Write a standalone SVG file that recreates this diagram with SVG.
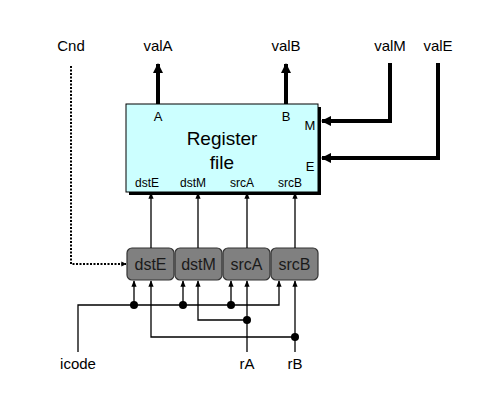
<svg xmlns="http://www.w3.org/2000/svg" width="501" height="404" viewBox="0 0 501 404">
<style>
text{font-family:"Liberation Sans",Arial,sans-serif;fill:#000}
.lbl{font-size:15px;text-anchor:middle}
.small{font-size:12px;text-anchor:middle}
.port{font-size:13px;text-anchor:middle}
.thick{stroke:#000;stroke-width:4;fill:none}
.thin{stroke:#000;stroke-width:1.3;fill:none}
.reg{fill:#808080;stroke:#333;stroke-width:1.2}
.regt{font-size:16px;text-anchor:middle;fill:#1a1a1a}
</style>
<defs>
<marker id="big" viewBox="0 0 10 10" refX="9" refY="5" markerWidth="2.6" markerHeight="2.6" orient="auto" markerUnits="strokeWidth"><path d="M0,0 L10,5 L0,10 z" fill="#000"/></marker>
<marker id="sm" viewBox="0 0 10 10" refX="9" refY="5" markerWidth="5" markerHeight="5" orient="auto" markerUnits="strokeWidth"><path d="M0,1 L10,5 L0,9 z" fill="#000"/></marker>
</defs>
<rect width="501" height="404" fill="#fff"/>
<g id="labels">
<text class="lbl" x="71" y="51">Cnd</text>
<text class="lbl" x="158" y="51">valA</text>
<text class="lbl" x="286" y="51">valB</text>
<text class="lbl" x="390" y="51">valM</text>
<text class="lbl" x="438" y="51">valE</text>
<text class="lbl" x="78" y="369">icode</text>
<text class="lbl" x="247" y="369">rA</text>
<text class="lbl" x="295" y="369">rB</text>
</g>
<g id="regfile">
<rect x="129" y="107" width="192" height="88" fill="#000"/>
<rect x="126" y="104" width="192" height="88" fill="#ccffff" stroke="#000" stroke-width="1"/>
<text x="222" y="145" font-size="19" text-anchor="middle">Register</text>
<text x="222" y="169" font-size="19" text-anchor="middle">file</text>
<text class="port" x="158" y="121">A</text>
<text class="port" x="286" y="121">B</text>
<text class="port" x="310" y="130">M</text>
<text class="port" x="310" y="171">E</text>
<text class="small" x="147" y="187">dstE</text>
<text class="small" x="193" y="187">dstM</text>
<text class="small" x="242" y="187">srcA</text>
<text class="small" x="290" y="187">srcB</text>
</g>
<g id="r_dstE"><rect class="reg" x="127" y="248" width="47" height="32" rx="5"/><text class="regt" x="150.5" y="270">dstE</text></g>
<g id="r_dstM"><rect class="reg" x="175" y="248" width="47" height="32" rx="5"/><text class="regt" x="198.5" y="270">dstM</text></g>
<g id="r_srcA"><rect class="reg" x="223" y="248" width="47" height="32" rx="5"/><text class="regt" x="246.5" y="270">srcA</text></g>
<g id="r_srcB"><rect class="reg" x="271" y="248" width="47" height="32" rx="5"/><text class="regt" x="294.5" y="270">srcB</text></g>
<g id="connectors">
<line class="thick" x1="158" y1="104" x2="158" y2="64" marker-end="url(#big)"/>
<line class="thick" x1="286" y1="104" x2="286" y2="64" marker-end="url(#big)"/>
<polyline class="thick" points="390,63 390,121 322,121" marker-end="url(#big)"/>
<polyline class="thick" points="438,63 438,158 322,158" marker-end="url(#big)"/>
<polyline points="71,66 71,264 126,264" fill="none" stroke="#000" stroke-width="2" stroke-dasharray="2,1.5" marker-end="url(#big)"/>
<line class="thin" x1="151" y1="248" x2="151" y2="193" marker-end="url(#sm)"/>
<line class="thin" x1="198" y1="248" x2="198" y2="193" marker-end="url(#sm)"/>
<line class="thin" x1="247" y1="248" x2="247" y2="193" marker-end="url(#sm)"/>
<line class="thin" x1="295" y1="248" x2="295" y2="193" marker-end="url(#sm)"/>
<polyline class="thin" points="78,352 78,305 279,305 279,281" marker-end="url(#sm)"/>
<line class="thin" x1="134" y1="305" x2="134" y2="281" marker-end="url(#sm)"/>
<line class="thin" x1="183" y1="305" x2="183" y2="281" marker-end="url(#sm)"/>
<line class="thin" x1="231" y1="305" x2="231" y2="281" marker-end="url(#sm)"/>
<line class="thin" x1="247" y1="352" x2="247" y2="281" marker-end="url(#sm)"/>
<polyline class="thin" points="247,320 198,320 198,281" marker-end="url(#sm)"/>
<line class="thin" x1="295" y1="352" x2="295" y2="281" marker-end="url(#sm)"/>
<polyline class="thin" points="295,337 151,337 151,281" marker-end="url(#sm)"/>
<circle cx="134" cy="305" r="4"/>
<circle cx="183" cy="305" r="4"/>
<circle cx="231" cy="305" r="4"/>
<circle cx="247" cy="320" r="4"/>
<circle cx="295" cy="337" r="4"/>
</g>
</svg>
